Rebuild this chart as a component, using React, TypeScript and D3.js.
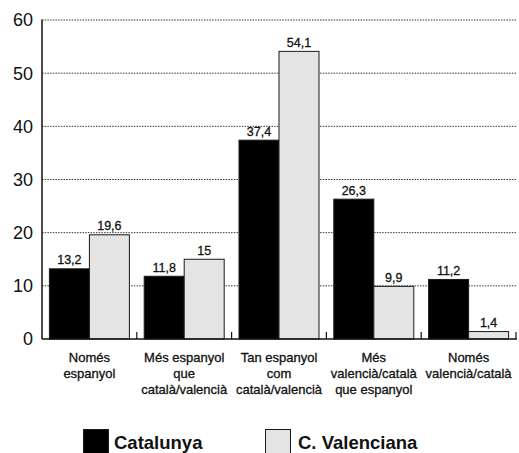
import React from "react";
import * as d3 from "d3";

const categories: string[][] = [
  ["Només", "espanyol"],
  ["Més espanyol", "que", "català/valencià"],
  ["Tan espanyol", "com", "català/valencià"],
  ["Més", "valencià/català", "que espanyol"],
  ["Només", "valencià/català"],
];
const seriesNames = ["Catalunya", "C. Valenciana"];
const catalunya = [13.2, 11.8, 37.4, 26.3, 11.2];
const valenciana = [19.6, 15, 54.1, 9.9, 1.4];
const yTicks = [0, 10, 20, 30, 40, 50, 60];

const W = 519;
const H = 453;
const left = 42;
const right = 516;
const top = 20;
const bottom = 339;
const FONT = "'Liberation Sans', Arial, Helvetica, sans-serif";
const fillColors = ["#000000", "#e4e4e4"];

const fmt = (v: number) => String(v).replace(".", ",");

export default function App() {
  const keys = categories.map((_, i) => String(i));
  const x = d3.scaleBand<string>().domain(keys).range([left, right]).padding(0);
  const xs = d3
    .scaleBand<string>()
    .domain(seriesNames)
    .range([0, x.bandwidth()])
    .paddingInner(0)
    .paddingOuter(0.185);
  const y = d3.scaleLinear().domain([0, 60]).range([bottom, top]);
  const data = [catalunya, valenciana];

  return (
    <svg
      width={W}
      height={H}
      style={{ position: "absolute", left: 0, top: 0, background: "#fff" }}
      fontFamily={FONT}
    >
      {/* grid */}
      {yTicks.filter((t) => t > 0).map((t) => (
        <line
          key={"g" + t}
          x1={left}
          x2={right + 1}
          y1={y(t)}
          y2={y(t)}
          stroke="#000"
          strokeWidth={0.8}
          strokeDasharray="1.5,1.2"
        />
      ))}
      {/* y tick labels */}
      {yTicks.map((t) => (
        <text
          key={"t" + t}
          x={33}
          y={y(t)}
          dy="0.36em"
          textAnchor="end"
          fontSize={18}
          fill="#111"
        >
          {t}
        </text>
      ))}
      {/* bars */}
      {keys.map((k, i) =>
        seriesNames.map((s, j) => {
          const v = data[j][i];
          const bx = (x(k) as number) + (xs(s) as number);
          return (
            <g key={k + s}>
              <rect
                x={bx}
                y={y(v)}
                width={xs.bandwidth()}
                height={bottom - y(v)}
                fill={fillColors[j]}
                stroke="#1a1a1a"
                strokeWidth={1}
              />
              <text
                x={bx + xs.bandwidth() / 2}
                y={y(v) - 4.5}
                textAnchor="middle"
                fontSize={12.5}
                fill="#111"
                stroke="#111"
                strokeWidth={0.3}
              >
                {fmt(v)}
              </text>
            </g>
          );
        })
      )}
      {/* axes */}
      <line x1={left} x2={left} y1={top - 0.5} y2={bottom} stroke="#111" strokeWidth={1.5} />
      <line x1={left} x2={right + 1} y1={bottom} y2={bottom} stroke="#111" strokeWidth={1.6} />
      {keys.map((k) => {
        const bx = (x(k) as number) + x.bandwidth();
        return (
          <line key={"tk" + k} x1={bx} x2={bx} y1={bottom} y2={bottom - 7} stroke="#111" strokeWidth={1.2} />
        );
      })}
      {/* category labels */}
      {keys.map((k, i) => (
        <text
          key={"c" + k}
          x={(x(k) as number) + x.bandwidth() / 2}
          y={362}
          textAnchor="middle"
          fontSize={13}
          fill="#111"
          stroke="#111"
          strokeWidth={0.3}
        >
          {categories[i].map((line, li) => (
            <tspan key={li} x={(x(k) as number) + x.bandwidth() / 2} dy={li === 0 ? 0 : 15.8}>
              {line}
            </tspan>
          ))}
        </text>
      ))}
      {/* legend */}
      {seriesNames.map((s, j) => {
        const lx = j === 0 ? 83 : 265;
        return (
          <g key={"l" + s}>
            <rect
              x={lx + 0.5}
              y={429.5}
              width={25}
              height={25}
              fill={fillColors[j]}
              stroke="#1a1a1a"
              strokeWidth={1}
            />
            <text x={lx + (j === 0 ? 31 : 33)} y={449} fontSize={18.5} fontWeight={600} fill="#111">
              {s}
            </text>
          </g>
        );
      })}
    </svg>
  );
}
